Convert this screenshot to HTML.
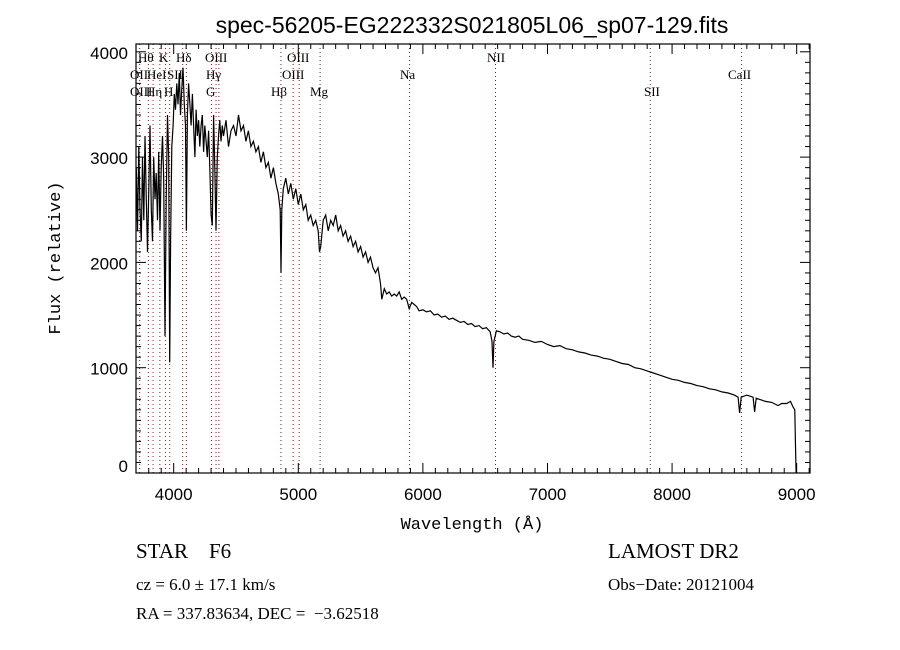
<!DOCTYPE html>
<html><head><meta charset="utf-8"><style>
html,body{margin:0;padding:0;background:#fff;}
svg{display:block;font-family:"Liberation Sans",sans-serif;}
text{white-space:pre;}
</style></head><body>
<svg id="chart" width="900" height="650" viewBox="0 0 900 650">
<rect x="0" y="0" width="900" height="650" fill="#fff"/>
<text x="472" y="33" text-anchor="middle" font-size="23">spec-56205-EG222332S021805L06_sp07-129.fits</text>
<text x="472" y="529" text-anchor="middle" font-size="17" font-family="Liberation Mono, monospace">Wavelength (Å)</text>
<text transform="translate(60,258) rotate(-90)" text-anchor="middle" font-size="17" font-family="Liberation Mono, monospace">Flux (relative)</text>
<g id="lines"></g>
<g id="ticks"></g>
<path id="spec" fill="none" stroke="#000" stroke-width="1.2"/>
<rect x="136" y="44" width="674" height="429" fill="none" stroke="#000" stroke-width="1.2"/>
<g font-family="Liberation Serif, serif" fill="#000">
<text x="136" y="558" font-size="21">STAR    F6</text>
<text x="136" y="590" font-size="17">cz = 6.0 ± 17.1 km/s</text>
<text x="136" y="619" font-size="17">RA = 337.83634, DEC =  −3.62518</text>
<text x="608" y="558" font-size="21">LAMOST DR2</text>
<text x="608" y="590" font-size="17">Obs−Date: 20121004</text>
</g>
</svg>
<script>
const wave=[3700,3710,3720,3730,3740,3750,3760,3770,3780,3790,3800,3810,3820,3830,3840,3850,3860,3870,3880,3890,3900,3910,3920,3930,3940,3950,3960,3968,3975,3985,3995,4005,4015,4025,4035,4045,4055,4065,4075,4085,4095,4102,4110,4120,4130,4140,4150,4160,4170,4180,4190,4200,4210,4220,4230,4240,4250,4260,4270,4280,4290,4300,4310,4320,4330,4340,4350,4360,4370,4380,4390,4400,4420,4440,4460,4480,4500,4520,4540,4560,4580,4600,4620,4640,4660,4680,4700,4720,4740,4760,4780,4800,4820,4840,4855,4861,4868,4880,4900,4920,4940,4960,4980,5000,5020,5040,5060,5080,5100,5120,5140,5160,5170,5180,5200,5220,5240,5260,5280,5300,5320,5340,5360,5380,5400,5420,5440,5460,5480,5500,5520,5540,5560,5580,5600,5620,5640,5660,5670,5690,5710,5730,5750,5770,5790,5810,5830,5850,5870,5890,5910,5930,5950,5970,6000,6030,6060,6090,6120,6150,6180,6210,6240,6270,6300,6330,6360,6390,6420,6450,6480,6510,6540,6555,6563,6570,6590,6620,6650,6680,6710,6740,6770,6800,6850,6900,6950,7000,7050,7100,7150,7200,7250,7300,7350,7400,7450,7500,7550,7600,7650,7700,7750,7800,7850,7900,7950,8000,8050,8100,8150,8200,8250,8300,8350,8400,8450,8500,8530,8542,8555,8600,8650,8662,8675,8700,8750,8800,8850,8880,8920,8950,8970,8985,8990,8995];
const flux=[2900,2300,3100,2500,2200,3000,2400,3200,2600,2100,2700,3300,2500,2200,3000,2600,2850,2400,3050,2300,2900,3200,2800,1300,2600,3400,3000,1050,2200,3100,3300,3600,3450,3700,3500,3800,3400,3650,3850,3500,3300,2300,3400,3700,3500,3300,3600,3300,3000,3450,3200,3350,3100,3300,3400,3050,3300,3150,3000,3250,2900,2450,2350,3400,2900,2300,3000,3200,3350,3150,3300,3200,3350,3100,3250,3300,3200,3400,3250,3300,3150,3250,3100,3150,3050,3100,2950,3050,2900,2950,2800,2900,2750,2650,2500,1900,2500,2700,2800,2650,2750,2600,2700,2550,2650,2500,2550,2400,2450,2350,2400,2300,2100,2150,2400,2450,2300,2400,2350,2450,2300,2350,2250,2300,2200,2250,2150,2200,2100,2150,2050,2100,2000,2050,1950,1900,1950,1800,1650,1750,1700,1720,1680,1700,1680,1720,1650,1670,1650,1560,1620,1600,1580,1540,1550,1530,1540,1500,1510,1480,1490,1460,1470,1450,1430,1440,1410,1420,1390,1400,1370,1380,1340,1250,1000,1250,1350,1340,1320,1330,1300,1290,1300,1270,1260,1240,1250,1220,1200,1210,1180,1170,1150,1140,1120,1110,1090,1080,1060,1040,1030,1000,990,970,950,930,910,890,880,860,850,830,820,800,790,770,760,740,720,570,720,740,720,580,710,700,680,670,640,660,660,680,630,600,300,0];
const lineWaves=[3727,3797,3835,3889,3934,3968,4072,4102,4304,4340,4363,4861,4959,5007,5175,5893,6583,7825,8557];
const lineLabels=[
 {t:"Hθ",x:138,y:62},{t:"K",x:159,y:62},{t:"Hδ",x:176,y:62},{t:"OIII",x:205,y:62},{t:"OIII",x:287,y:62},{t:"NII",x:487,y:62},{t:"CaII",x:728,y:79},
 {t:"OII",x:130,y:79},{t:"HeI",x:147,y:79},{t:"SII",x:167,y:79},{t:"Hγ",x:206,y:79},{t:"OIII",x:282,y:79},{t:"Na",x:400,y:79},
 {t:"OIII",x:130,y:96},{t:"Hη",x:146,y:96},{t:"H",x:164,y:96},{t:"G",x:206,y:96},{t:"Hβ",x:271,y:96},{t:"Mg",x:310,y:96},{t:"SII",x:644,y:96}];
const xTicks=[4000,5000,6000,7000,8000,9000];
const yTicks=[0,1000,2000,3000,4000];
const NS="http://www.w3.org/2000/svg";
const L=136,R=810,T=44,B=473;
const X=w=>136.3+(w-3700)*0.1246;
const Y=f=>473-f*0.1053;
function mk(tag,attrs,parent){const e=document.createElementNS(NS,tag);for(const k in attrs)e.setAttribute(k,attrs[k]);parent.appendChild(e);return e;}
const lg=document.getElementById('lines');
lineWaves.forEach(w=>{
 const e=mk('line',{x1:X(w),x2:X(w),y1:T,y2:B,stroke:'#8b1a1a','stroke-width':1,'stroke-dasharray':'1 3'},lg);
 
 
});
lineLabels.forEach(o=>{
 const e=mk('text',{x:o.x,y:o.y,'font-size':13,'font-family':'Liberation Serif, serif'},lg);
 e.textContent=o.t;
 
 
});
const tg=document.getElementById('ticks');
for(let w=3800;w<=9100;w+=100){
 const maj=w%1000===0, len=maj?10:5;
 mk('line',{x1:X(w),x2:X(w),y1:B,y2:B-len,stroke:'#000'},tg);
 mk('line',{x1:X(w),x2:X(w),y1:T,y2:T+len,stroke:'#000'},tg);
}
for(let f=0;f<=4000;f+=100){
 const maj=f%1000===0, len=maj?10:5;
 mk('line',{x1:L,x2:L+len,y1:Y(f),y2:Y(f),stroke:'#000'},tg);
 mk('line',{x1:R,x2:R-len,y1:Y(f),y2:Y(f),stroke:'#000'},tg);
}
xTicks.forEach(v=>{
 const e=mk('text',{x:X(v),y:500,'text-anchor':'middle','font-size':17},tg);
 e.textContent=v;
 
 
});
yTicks.forEach(v=>{
 const yy=v===0?472:Y(v)+7;
 const e=mk('text',{x:128,y:yy,'text-anchor':'end','font-size':17},tg);
 e.textContent=v;
 
 
});
let d='';
wave.forEach((w,i)=>{d+=(i?'L':'M')+X(w).toFixed(1)+' '+Y(flux[i]).toFixed(1);});
document.getElementById('spec').setAttribute('d',d);
</script>
</body></html>
